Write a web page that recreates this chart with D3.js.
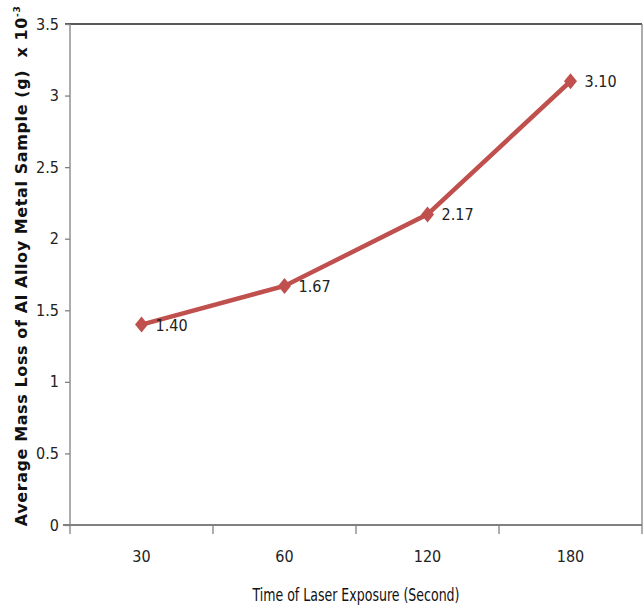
<!DOCTYPE html>
<meta charset="utf-8">
<style>
body {
	margin: 0;
	background: #fff;
}
svg {
	display: block;
}
.tick text {
	font: 16px "Liberation Sans Narrow", "DejaVu Sans Condensed", sans-serif;
	fill: #222;
}
.lbl {
	font: 16px "Liberation Sans Narrow", "DejaVu Sans Condensed", sans-serif;
	fill: #222;
}
.ytitle {
	font: bold 16px "DejaVu Sans", sans-serif;
	letter-spacing: 0.6px;
	fill: #111;
}
.xtitle {
	font: 18px "Liberation Sans Narrow", "DejaVu Sans Condensed", sans-serif;
	fill: #111;
}
</style>
<body>
<svg></svg>
<script src="https://d3js.org/d3.v7.min.js"></script>
<script>

var categories = ["30", "60", "120", "180"];
var massLoss = [1.40, 1.67, 2.17, 3.10];
var labels = ["1.40", "1.67", "2.17", "3.10"];
var yTicks = [0, 0.5, 1, 1.5, 2, 2.5, 3, 3.5];

var width = 644, height = 605;
var margin = {top: 24, right: 2, bottom: 80, left: 70};

var svg = d3.select("svg")
	.attr("width", width)
	.attr("height", height);

var x = d3.scaleBand()
	.domain(categories)
	.range([margin.left, width - margin.right]);

var y = d3.scaleLinear()
	.domain([0, 3.5])
	.range([height - margin.bottom, margin.top]);

var color = "#c0504d";
var axisColor = "#808080";

// plot border (top + right)
svg.append("line")
	.attr("x1", margin.left - 5).attr("x2", width - margin.right)
	.attr("y1", y(3.5)).attr("y2", y(3.5))
	.attr("stroke", "#222").attr("stroke-width", 1.3);
svg.append("line")
	.attr("x1", width - margin.right).attr("x2", width - margin.right)
	.attr("y1", y(3.5)).attr("y2", y(0) + 9)
	.attr("stroke", axisColor).attr("stroke-width", 1.3);

// y axis
var yaxis = svg.append("g")
	.attr("transform", "translate(" + margin.left + ",0)")
	.call(d3.axisLeft(y).tickValues(yTicks).tickSize(5).tickPadding(6)
		.tickFormat(function(d) { return String(d); }));
yaxis.selectAll("path, line").attr("stroke", axisColor).attr("stroke-width", 1.3);
yaxis.select(".domain").attr("d", "M0," + y(3.5) + "V" + (y(0) + 9));

// x axis
var xaxis = svg.append("g")
	.attr("transform", "translate(0," + y(0) + ")")
	.call(d3.axisBottom(x).tickSize(0).tickPadding(26));
xaxis.select(".domain").attr("d", "M" + (margin.left - 7) + ",0H" + (width - margin.right))
	.attr("stroke", axisColor).attr("stroke-width", 2);
xaxis.selectAll(".tick line").remove();
// boundary ticks between categories
var bounds = categories.slice(1).map(function(c) { return x(c); });
xaxis.selectAll(".bound").data(bounds).enter().append("line")
	.attr("x1", function(d) { return d; }).attr("x2", function(d) { return d; })
	.attr("y1", 0).attr("y2", 9)
	.attr("stroke", axisColor).attr("stroke-width", 1.3);

// line
var data = categories.map(function(c, i) { return {c: c, v: massLoss[i], l: labels[i]}; });
var line = d3.line()
	.x(function(d) { return x(d.c) + x.bandwidth() / 2; })
	.y(function(d) { return y(d.v); });

svg.append("path")
	.datum(data)
	.attr("d", line)
	.attr("fill", "none")
	.attr("stroke", color)
	.attr("stroke-width", 4.5);

svg.selectAll(".pt").data(data).enter().append("path")
	.attr("d", "M0,-8L6.5,0L0,8L-6.5,0Z")
	.attr("transform", function(d) { return "translate(" + (x(d.c) + x.bandwidth() / 2) + "," + y(d.v) + ")"; })
	.attr("fill", color);

svg.selectAll(".lbl").data(data).enter().append("text")
	.attr("class", "lbl")
	.attr("x", function(d) { return x(d.c) + x.bandwidth() / 2 + 14; })
	.attr("y", function(d) { return y(d.v) + 6; })
	.text(function(d) { return d.l; });

// titles
var yt = svg.append("text")
	.attr("class", "ytitle")
	.attr("transform", "translate(27," + 266 + ") rotate(-90)")
	.attr("text-anchor", "middle");
yt.append("tspan").text("Average Mass Loss of Al Alloy Metal Sample (g) \u00a0x 10");
yt.append("tspan").attr("dy", -7).attr("font-size", "9px").text("-3");

svg.append("text")
	.attr("class", "xtitle")
	.attr("x", (margin.left + width - margin.right) / 2)
	.attr("y", 601)
	.attr("text-anchor", "middle")
	.attr("textLength", 207)
	.attr("lengthAdjust", "spacingAndGlyphs")
	.text("Time of Laser Exposure (Second)");

</script>
</body>
